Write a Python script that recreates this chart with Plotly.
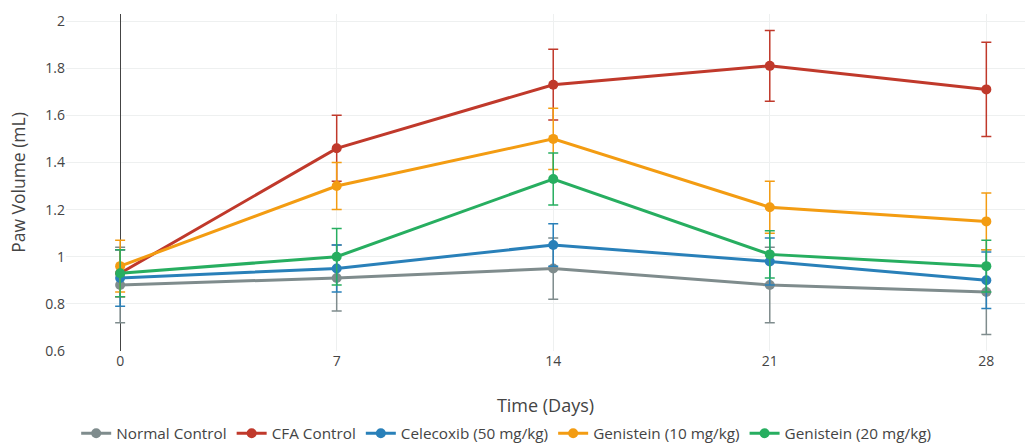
import plotly.graph_objects as go

days = [0, 7, 14, 21, 28]
series_names = ["Normal Control", "CFA Control", "Celecoxib (50 mg/kg)", "Genistein (10 mg/kg)", "Genistein (20 mg/kg)"]
normal = [0.88, 0.91, 0.95, 0.88, 0.85]
normal_err = [0.16, 0.14, 0.13, 0.16, 0.18]
cfa = [0.93, 1.46, 1.73, 1.81, 1.71]
cfa_err = [0.10, 0.14, 0.15, 0.15, 0.20]
celecoxib = [0.91, 0.95, 1.05, 0.98, 0.90]
celecoxib_err = [0.12, 0.10, 0.09, 0.10, 0.12]
gen10 = [0.96, 1.30, 1.50, 1.21, 1.15]
gen10_err = [0.11, 0.10, 0.13, 0.11, 0.12]
gen20 = [0.93, 1.00, 1.33, 1.01, 0.96]
gen20_err = [0.10, 0.12, 0.11, 0.10, 0.11]
colors = ["#7f8c8d", "#c0392b", "#2980b9", "#f39c12", "#27ae60"]

fig = go.Figure()
for name, vals, errs, col in zip(series_names, [normal, cfa, celecoxib, gen10, gen20],
                                 [normal_err, cfa_err, celecoxib_err, gen10_err, gen20_err], colors):
    fig.add_trace(go.Scatter(
        x=days, y=vals, name=name, mode="lines+markers",
        line=dict(color=col, width=3),
        marker=dict(color=col, size=10),
        error_y=dict(type="data", array=errs, visible=True, color=col, thickness=1.5, width=5),
    ))

fig.update_layout(
    width=1025, height=444,
    margin=dict(l=66, r=0, t=14, b=93, autoexpand=False),
    paper_bgcolor="white", plot_bgcolor="white",
    font=dict(family="Open Sans", color="#444", size=14),
    xaxis=dict(title=dict(text="Time (Days)", font=dict(size=18), standoff=30), range=[-1.75, 29.25],
               tickvals=days, showgrid=True, gridcolor="#eef0f0", automargin=False,
               tickfont=dict(size=14),
               zeroline=True, zerolinecolor="#444", zerolinewidth=1),
    yaxis=dict(title=dict(text="Paw Volume (mL)", font=dict(size=17.5)), range=[0.6, 2.03],
               dtick=0.2, showgrid=True, gridcolor="#eef0f0", zeroline=False, automargin=False,
               tickfont=dict(size=14)),
    legend=dict(orientation="h", x=0.459, xanchor="center",
                y=-0.244, yanchor="middle", font=dict(size=15.3)),
    showlegend=True,
)
fig.write_html("out.html", config={"displayModeBar": False},
               post_script="document.body.style.margin='0';document.body.style.overflow='hidden';")
